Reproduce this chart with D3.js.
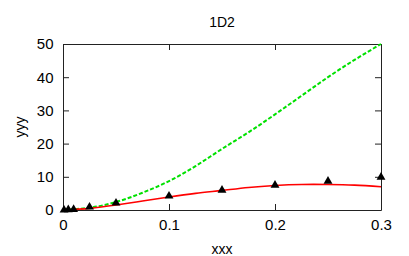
<!DOCTYPE html>
<html>
<head>
<meta charset="utf-8">
<script src="https://cdn.jsdelivr.net/npm/d3@7"></script>
<style>
  body { margin: 0; background: #fff; }
  text { font-family: "Liberation Sans", Arial, sans-serif; }
</style>
</head>
<body>
<svg id="chart" width="409" height="256"></svg>
<script>
// values
var curveX = [0, 0.025, 0.05, 0.075, 0.1, 0.125, 0.15, 0.175, 0.2, 0.225, 0.25, 0.275, 0.3];
var redY = [0, 0.5, 1.5, 2.7, 3.9, 5.0, 5.9, 6.8, 7.4, 7.7, 7.7, 7.5, 7.0];
var greenY = [0, 0.7, 2.4, 5.2, 8.7, 13.2, 18.4, 23.4, 28.8, 34.4, 40, 45.2, 50];
var pointX = [0.001, 0.005, 0.01, 0.025, 0.05, 0.1, 0.15, 0.2, 0.25, 0.3];
var pointY = [0, 0.1, 0.2, 0.9, 2.1, 4.2, 6.0, 7.5, 8.7, 9.9];
var xTicks = [0, 0.1, 0.2, 0.3];
var yTicks = [0, 10, 20, 30, 40, 50];

const svg = d3.select("#chart");
const mLeft = 63, mRight = 381, mTop = 44, mBottom = 210;

var x = d3.scaleLinear().domain([0, 0.3]).range([mLeft, mRight]);
var y = d3.scaleLinear().domain([0, 50]).range([mBottom, mTop]);

// axes, ticks pointing inward on all four sides
function styleAxis(g) {
  g.selectAll("path").attr("stroke", "#222");
  g.selectAll("line").attr("stroke", "#222");
  g.selectAll("text").attr("font-size", 15).attr("fill", "#000");
}
svg.append("g").attr("transform", `translate(0,${mBottom})`)
  .call(d3.axisBottom(x).tickValues(xTicks).tickSizeInner(-6).tickSizeOuter(0).tickPadding(9)
    .tickFormat(d => d === 0 ? "0" : d3.format(".1f")(d)))
  .call(styleAxis);
svg.append("g").attr("transform", `translate(0,${mTop})`)
  .call(d3.axisTop(x).tickValues(xTicks).tickSizeInner(-6).tickSizeOuter(0).tickFormat(""))
  .call(styleAxis);
svg.append("g").attr("transform", `translate(${mLeft},0)`)
  .call(d3.axisLeft(y).tickValues(yTicks).tickSizeInner(-6).tickSizeOuter(0).tickPadding(9.5))
  .call(styleAxis);
svg.append("g").attr("transform", `translate(${mRight},0)`)
  .call(d3.axisRight(y).tickValues(yTicks).tickSizeInner(-6).tickSizeOuter(0).tickFormat(""))
  .call(styleAxis);

// curves
var redData = curveX.map((d, i) => [d, redY[i]]);
var greenData = curveX.map((d, i) => [d, greenY[i]]);
var line = d3.line().x(d => x(d[0])).y(d => y(d[1])).curve(d3.curveNatural);

svg.append("path").datum(greenData)
  .attr("d", line)
  .attr("fill", "none")
  .attr("stroke", "#00e000")
  .attr("stroke-width", 2)
  .attr("stroke-dasharray", "4,2");

svg.append("path").datum(redData)
  .attr("d", line)
  .attr("fill", "none")
  .attr("stroke", "#ff0000")
  .attr("stroke-width", 1.6);

// triangle points
var tri = d3.symbol().type(d3.symbolTriangle).size(34);
svg.selectAll(".pt")
  .data(pointX)
  .enter()
  .append("path")
  .attr("class", "pt")
  .attr("d", tri)
  .attr("transform", (d, i) => `translate(${x(d)},${y(pointY[i])})`)
  .attr("fill", "#000");

// labels
svg.append("text").attr("x", 222).attr("y", 27).attr("text-anchor", "middle")
  .attr("font-size", 14).text("1D2");
svg.append("text").attr("x", 222).attr("y", 254).attr("text-anchor", "middle")
  .attr("font-size", 14).text("xxx");
svg.append("text").attr("transform", "translate(25,127) rotate(-90)")
  .attr("text-anchor", "middle").attr("font-size", 14).text("yyy");
</script>
</body>
</html>
